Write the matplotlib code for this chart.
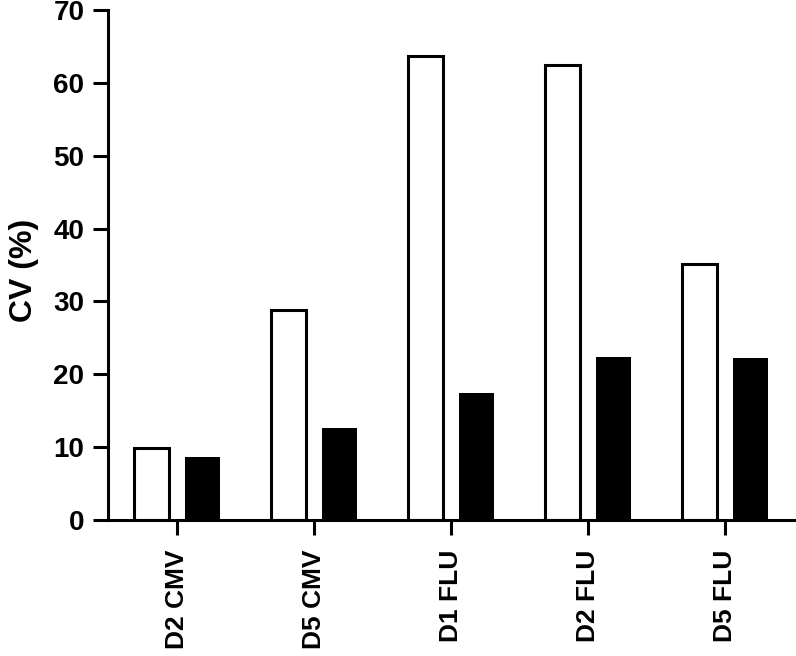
import numpy as np
import matplotlib
matplotlib.use("Agg")
import matplotlib.pyplot as plt

# data
categories = ["D2 CMV", "D5 CMV", "D1 FLU", "D2 FLU", "D5 FLU"]
cv_open = [9.9, 28.8, 63.7, 62.5, 35.1]
cv_filled = [8.6, 12.6, 17.4, 22.4, 22.3]

plt.rcParams['font.family'] = ['Liberation Sans', 'DejaVu Sans']
plt.rcParams['font.weight'] = 'bold'

fig = plt.figure(figsize=(7.96, 6.56), dpi=100)
ax = fig.add_axes([0.1357, 0.2073, 0.8643, 0.7775])

x = np.arange(len(categories))
w = 0.255
off = 0.186
ax.bar(x - off, cv_open, width=w, color='white', edgecolor='black', linewidth=2.2)
ax.bar(x + off, cv_filled, width=w, color='black', edgecolor='black', linewidth=0)

ax.set_xlim(-0.5, 4.52)
ax.set_ylim(0, 70)
ax.set_yticks(range(0, 71, 10))
ax.set_xticks(x)
ax.set_xticklabels(categories, rotation=90, fontsize=19, fontweight='bold')
ax.tick_params(axis='y', labelsize=20, width=2.2, length=11, pad=6)
ax.tick_params(axis='x', width=2.2, length=11, pad=10)
for t in ax.get_yticklabels():
    t.set_fontweight('bold')

ax.set_ylabel('CV (%)', fontsize=23, fontweight='bold')
ax.yaxis.set_label_coords(-0.1, 0.49)

for s in ['top', 'right']:
    ax.spines[s].set_visible(False)
for s in ['left', 'bottom']:
    ax.spines[s].set_linewidth(2.2)

fig.savefig('out.png', dpi=100)
